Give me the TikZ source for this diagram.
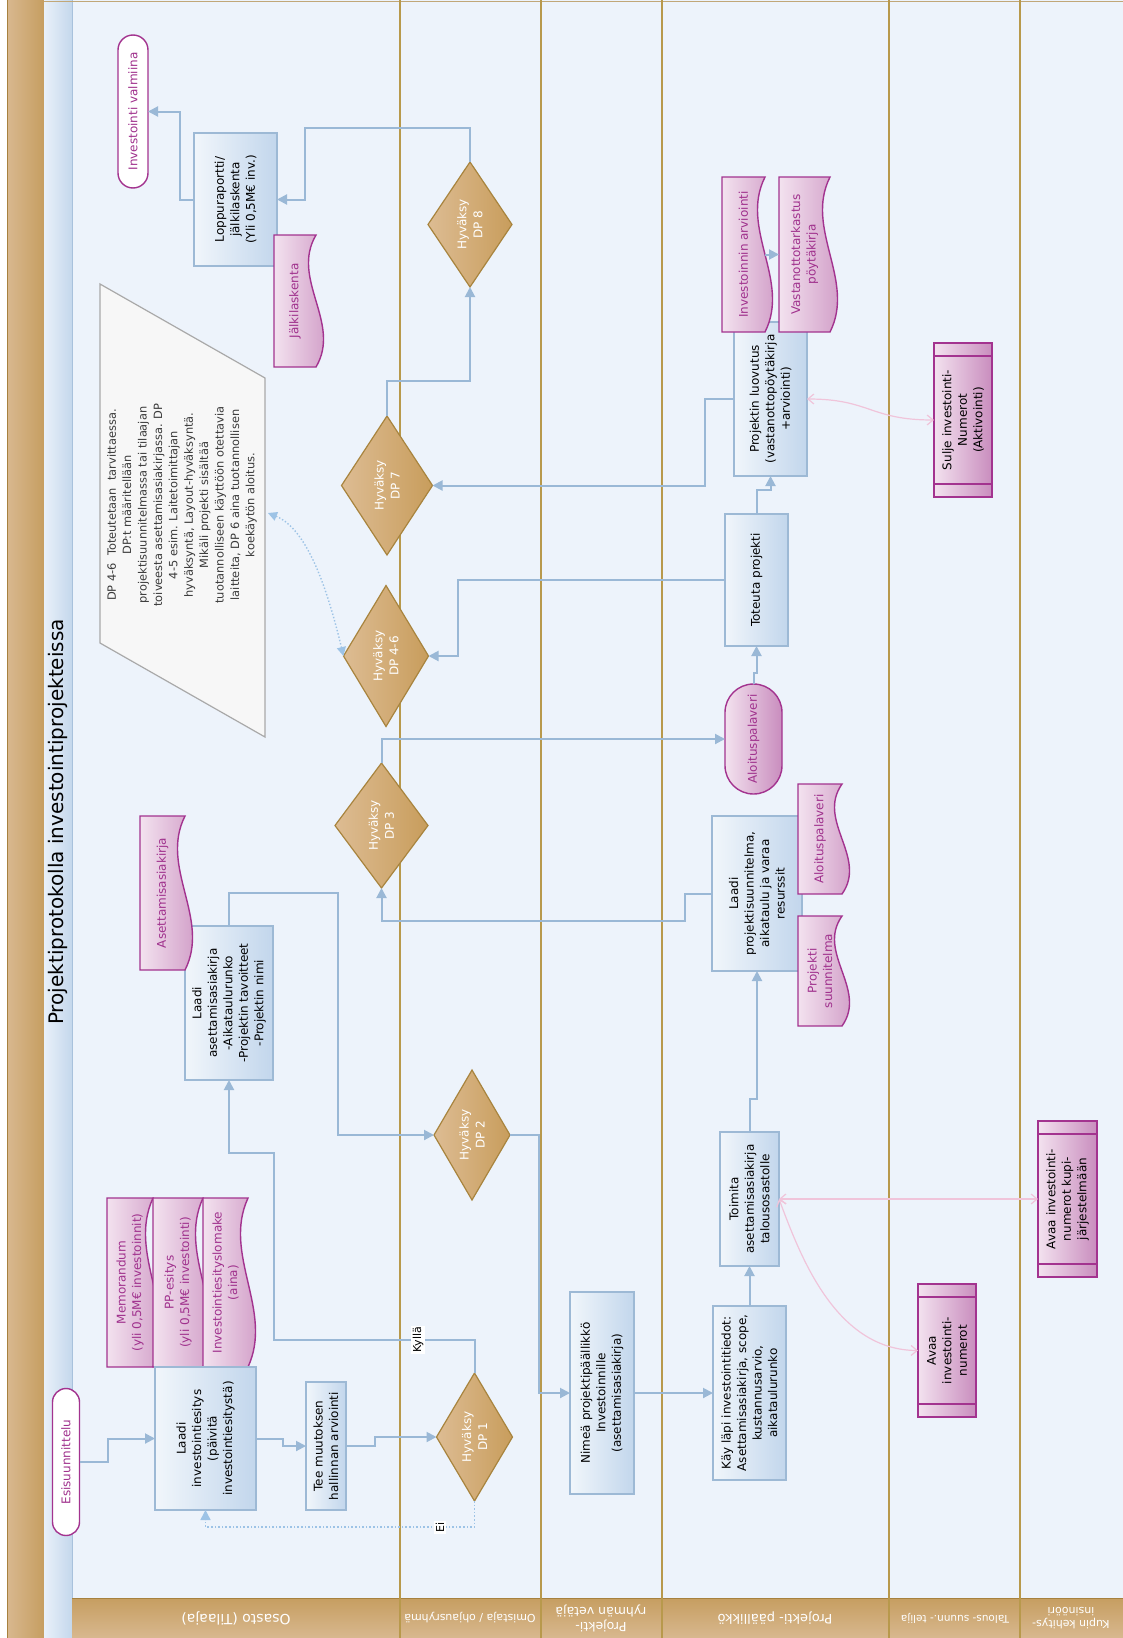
\documentclass[tikz,border=0pt]{standalone}
\usepackage{fontspec}
\setmainfont{DejaVu Sans}
\usetikzlibrary{arrows.meta,shapes.geometric,shapes.misc,calc}

\definecolor{canvas}{HTML}{EDF3FB}
\definecolor{procB}{HTML}{9DB9D5}
\definecolor{procL}{HTML}{F1F6FB}
\definecolor{procR}{HTML}{C2D6EC}
\definecolor{magB}{HTML}{A3338F}
\definecolor{magT}{HTML}{A0318D}
\definecolor{pinkL}{HTML}{F3E2EF}
\definecolor{pinkR}{HTML}{C98DBE}
\definecolor{decB}{HTML}{A8843E}
\definecolor{decL}{HTML}{DDBC93}
\definecolor{decR}{HTML}{C89D5C}
\definecolor{flowC}{HTML}{9AB8D6}
\definecolor{dotC}{HTML}{9DC3E6}
\definecolor{linkC}{HTML}{F0C4DA}
\definecolor{laneC}{HTML}{B8994C}
\definecolor{brL}{HTML}{D8B88F}
\definecolor{brR}{HTML}{C69E61}
\definecolor{brD}{HTML}{A7813E}
\definecolor{tiL}{HTML}{E9F1FA}
\definecolor{tiR}{HTML}{C4D7EC}
\definecolor{tiB}{HTML}{A8C1DC}
\definecolor{noteF}{HTML}{F7F7F7}
\definecolor{noteB}{HTML}{A9A9A9}
\definecolor{noteT}{HTML}{3A3A3A}

% document symbol: rectangle whose bottom edge is a wave
\makeatletter
\pgfdeclareshape{docwave}{%
  \inheritsavedanchors[from=rectangle]%
  \inheritanchorborder[from=rectangle]%
  \inheritanchor[from=rectangle]{center}%
  \inheritanchor[from=rectangle]{north}%
  \inheritanchor[from=rectangle]{south}%
  \inheritanchor[from=rectangle]{east}%
  \inheritanchor[from=rectangle]{west}%
  \inheritanchor[from=rectangle]{north east}%
  \inheritanchor[from=rectangle]{north west}%
  \inheritanchor[from=rectangle]{south east}%
  \inheritanchor[from=rectangle]{south west}%
  \backgroundpath{%
    \southwest\edef\dw@xa{\the\pgf@x}\edef\dw@ya{\the\pgf@y}%
    \northeast\edef\dw@xb{\the\pgf@x}\edef\dw@yb{\the\pgf@y}%
    \pgfmathsetlengthmacro\dw@ca{\dw@xb-(\dw@xb-\dw@xa)/3}%
    \pgfmathsetlengthmacro\dw@cb{\dw@xa+(\dw@xb-\dw@xa)/3}%
    \pgfmathsetlengthmacro\dw@yu{\dw@ya+26pt}%
    \pgfmathsetlengthmacro\dw@yd{\dw@ya-26pt}%
    \pgfpathmoveto{\pgfqpoint{\dw@xa}{\dw@yb}}%
    \pgfpathlineto{\pgfqpoint{\dw@xb}{\dw@yb}}%
    \pgfpathlineto{\pgfqpoint{\dw@xb}{\dw@ya}}%
    \pgfpathcurveto{\pgfqpoint{\dw@ca}{\dw@yu}}{\pgfqpoint{\dw@cb}{\dw@yd}}{\pgfqpoint{\dw@xa}{\dw@ya}}%
    \pgfpathclose
  }%
}
\makeatother

\newcommand\boxfnt{\fontsize{12}{15.5}\selectfont}
\newcommand\decfnt{\fontsize{12}{16}\selectfont}
% vertical bars of a predefined-process symbol
\newcommand\sidebars[1]{%
  \draw[magB, line width=1.2pt] ($(#1.north west)!13pt!(#1.north east)$) -- ($(#1.south west)!13pt!(#1.south east)$);
  \draw[magB, line width=1.2pt] ($(#1.north east)!13pt!(#1.north west)$) -- ($(#1.south east)!13pt!(#1.south west)$);}

\tikzset{
  sz/.style 2 args={minimum height=#1pt, minimum width=#2pt},
  shapebase/.style={rotate=90, align=center, inner sep=0pt, outer sep=0pt, font=\boxfnt},
  proc/.style={shapebase, rectangle, draw=procB, line width=1.4pt, left color=procL, right color=procR, text=black},
  docu/.style={shapebase, docwave, draw=magB, line width=1.4pt, left color=pinkL, right color=pinkR, text=magT},
  term/.style={shapebase, rounded rectangle, draw=magB, line width=1.4pt, fill=white, text=magT},
  pproc/.style={shapebase, rectangle, draw=magB, line width=1.4pt, left color=pinkL, right color=pinkR, text=black},
  decis/.style={shapebase, diamond, draw=decB, line width=1.2pt, left color=decL, right color=decR, text=white, font=\decfnt},
  flow/.style={draw=flowC, line width=2pt, -{Triangle[length=10pt,width=10pt]}},
  dotflow/.style={draw=dotC, line width=1.6pt, dotted, -{Triangle[length=10pt,width=10pt]}},
  link/.style={draw=linkC, line width=1.2pt, {Straight Barb[length=6pt,width=10pt]}-{Straight Barb[length=6pt,width=10pt]}},
  lanesep/.style={draw=laneC, line width=2pt},
  lanelbl/.style={rotate=180, text=white, align=center, inner sep=0pt},
  tag/.style={rotate=90, fill=white, inner sep=1.5pt, font=\fontsize{11}{13}\selectfont},
}

\begin{document}
\begin{tikzpicture}[x=1pt,y=-1pt]
\useasboundingbox (0,0) rectangle (1123,1638);

% ---------- frame, title strip, lanes ----------
\fill[white] (0,0) rectangle (1123,1638);
\fill[canvas] (72,0) rectangle (1123,1598);
\shade[left color=brL, right color=brR] (7,0) rectangle (44,1638);
\draw[brD, line width=1pt] (7,0) -- (7,1638) (44,0) -- (44,1638);
\shade[left color=tiL, right color=tiR] (44,0) rectangle (72,1638);
\draw[tiB, line width=1pt] (72,0) -- (72,1598);
\shade[top color=brR, bottom color=brL] (72,1598) rectangle (1123,1638);
\draw[brD, line width=1pt] (72,1598) -- (1123,1598);
\draw[brD!70, line width=1pt] (44,1) -- (1123,1);
\foreach \x in {400,541,662,889,1020} \draw[lanesep] (\x,0) -- (\x,1638);

\node[rotate=90, font=\fontsize{20}{24}\selectfont] (title) at (58,822) {Projektiprotokolla investointiprojekteissa};

\node[lanelbl, font=\fontsize{14}{16}\selectfont] (lane1) at (236,1618) {Osasto (Tilaaja)};
\node[lanelbl, font=\fontsize{11}{13}\selectfont] (lane2) at (470,1618) {Omistaja / ohjausryhmä};
\node[lanelbl, font=\fontsize{12.5}{15}\selectfont] (lane3) at (601,1618) {Projekti-\\ryhmän vetäjä};
\node[lanelbl, font=\fontsize{13}{15}\selectfont] (lane4) at (775,1618) {Projekti- päällikkö};
\node[lanelbl, font=\fontsize{10.5}{12}\selectfont] (lane5) at (955,1618) {Talous- suunn.- telija};
\node[lanelbl, font=\fontsize{11}{13}\selectfont] (lane6) at (1071,1618) {Kupin kehitys-\\insinööri};

% ---------- annotation ----------
\path[fill=noteF, draw=noteB, line width=1.2pt] (100,284) -- (265,378) -- (265,737) -- (100,643) -- cycle;
\node[rotate=90, align=center, text=noteT, font=\fontsize{11.4}{15.4}\selectfont] (note) at (182,505)
  {DP 4-6\ \ Toteutetaan\ \ tarvittaessa.\\DP:t määritellään\\projektisuunnitelmassa tai tilaajan\\toiveesta asettamisasiakirjassa. DP\\4-5 esim. Laitetoimittajan\\hyväksyntä, Layout-hyväksyntä.\\Mikäli projekti sisältää\\tuotannolliseen käyttöön otettavia\\laitteita, DP 6 aina tuotannollisen\\koekäytön aloitus.};
\coordinate (noteR) at (268,513);

% ---------- lane 1: Osasto ----------
\node[term, sz={27}{147}] (esis) at (66,1462) {Esisuunnittelu};
\node[term, sz={30}{153}] (valmis) at (133,111.5) {Investointi valmiina};

\node[docu, sz={46}{169}] (memo) at (130,1282.5) {Memorandum\\(yli 0,5M€ investoinnit)};
\node[docu, sz={50}{169}] (ppes) at (178,1282.5) {PP-esitys\\(yli 0,5M€ investointi)};
\node[docu, sz={45}{169}] (lomake) at (225.5,1282.5) {Investointiesityslomake\\(aina)};
\node[proc, sz={101}{143}] (laadi1) at (205.5,1438.5) {Laadi\\investointiesitys\\(päivitä\\investointiesitystä)};
\node[proc, sz={40}{128}] (tee) at (326,1446) {Tee muutoksen\\hallinnan arviointi};

\node[proc, sz={88}{154}] (laadi2) at (229,1003) {Laadi\\asettamisasiakirja\\-Aikataulurunko\\-Projektin tavoitteet\\-Projektin nimi};
\node[docu, sz={45}{154}] (asett) at (162.5,893) {Asettamisasiakirja};

\node[proc, sz={83}{133}] (loppu) at (235.5,199.5) {Loppuraportti/\\jälkilaskenta\\(Yli 0,5M€ inv.)};
\node[docu, sz={42}{132}] (jalki) at (295,301) {Jälkilaskenta};

% ---------- lane 2: decisions ----------
\node[decis, sz={75}{128}] (dp1) at (474.5,1437) {Hyväksy\\DP 1};
\node[decis, sz={68}{130}] (dp2) at (472,1135) {Hyväksy\\DP 2};
\node[decis, sz={93}{125}] (dp3) at (381.5,825.5) {Hyväksy\\DP 3};
\node[decis, sz={85}{141}] (dp46) at (386,656) {Hyväksy\\DP 4-6};
\node[decis, sz={91}{139}] (dp7) at (387,485.5) {Hyväksy\\DP 7};
\node[decis, sz={84}{125}] (dp8) at (470,224.5) {Hyväksy\\DP 8};

% ---------- lane 3 ----------
\node[proc, sz={64}{202}] (nimea) at (602,1393) {Nimeä projektipäällikkö\\Investoinnille\\(asettamisasiakirja)};

% ---------- lane 4: Projektipäällikkö ----------
\node[proc, sz={73}{174}] (kay) at (749.5,1393) {Käy läpi investointitiedot:\\Asettamisasiakirja, scope,\\kustannusarvio,\\aikataulurunko};
\node[proc, sz={59}{134}] (toimita) at (749.5,1199) {Toimita\\asettamisasiakirja\\talousosastolle};
\node[proc, sz={90}{155}] (laadi3) at (757,893.5) {Laadi\\projektisuunnitelma,\\aikataulu ja varaa\\resurssit};
\node[docu, sz={44}{110}] (projsuun) at (820,971) {Projekti\\suunnitelma};
\node[docu, sz={44}{110}] (aloitdoc) at (820,839) {Aloituspalaveri};
\node[term, sz={57}{110}, draw=magB, left color=pinkL, right color=pinkR] (aloitus) at (753.5,739) {Aloituspalaveri};
\node[proc, sz={63}{132}] (toteuta) at (756.5,580) {Toteuta projekti};
\node[proc, sz={73}{154}] (luovutus) at (770.5,399) {Projektin luovutus\\(vastanottopöytäkirja\\+arviointi)};
\node[docu, sz={43}{155}] (invarv) at (743.5,254.5) {Investoinnin arviointi};
\node[docu, sz={51}{155}] (vastaan) at (804.5,254.5) {Vastanottotarkastus\\pöytäkirja};

% ---------- lanes 5 and 6 ----------
\node[pproc, sz={58}{133}] (avaa) at (947,1350.5) {Avaa\\investointi-\\numerot};
\sidebars{avaa}
\node[pproc, sz={58}{154}] (sulje) at (963,420) {Sulje investointi-\\Numerot\\(Aktivointi)};
\sidebars{sulje}
\node[pproc, sz={59}{156}] (kupi) at (1067.5,1199) {Avaa investointi-\\numerot kupi-\\järjestelmään};
\sidebars{kupi}

% ---------- connectors ----------
\draw[flow] (esis.south) -- ++(28,0) |- (laadi1.north);
\draw[flow] (laadi1.south) -- ++(27,0) |- (tee.north);
\draw[flow] (tee.south) -- ++(29,0) |- (dp1.north);
\draw[flow] (dp1.east) |- (274,1340) -- (274,1153) -| (laadi2.west);
\node[tag] (kylla) at (418,1340) {Kyllä};
\draw[dotflow] (dp1.west) -- ++(0,26) -| (laadi1.west);
\node[tag] (ei) at (440,1527) {Ei};
\draw[flow] (laadi2.east) |- (338,893) |- (dp2.north);
\draw[flow] (dp2.south) -- ++(29,0) |- (nimea.north);
\draw[flow] (nimea.south) -- (kay.north);
\draw[flow] (kay.east) -- (toimita.west);
\draw[flow] (toimita.east) -- ++(0,-33) -| (laadi3.west);
\draw[flow] (laadi3.north) -- ++(-27,0) -- ++(0,27) -| (dp3.west);
\draw[flow] (dp3.east) |- (aloitus.north);
\draw[flow] (aloitus.east) -- ++(0,-11) -| (toteuta.west);
\draw[flow] (toteuta.north) -| ($(dp46.south)+(29,0)$) -- (dp46.south);
\draw[flow] (toteuta.east) -- ++(0,-24) -| (luovutus.west);
\draw[flow] (luovutus.north) -- ++(-29,0) |- (dp7.south);
\draw[flow] (dp7.east) -- ++(0,-35) -| (dp8.west);
\draw[flow] (dp8.east) -- ++(0,-34) -| ($(loppu.south)+(28,0)$) -- (loppu.south);
\draw[flow] (loppu.north) -- ++(-14,0) |- (valmis.south);
\draw[flow] (invarv.south) -- (vastaan.north);

\draw[link] (toimita.south) -- (kupi.north);
\draw[link] (toimita.south) .. controls (800,1255) and (835,1350) .. (avaa.north);
\draw[link] (luovutus.south) .. controls (870,399) and (870,420) .. (sulje.north);
\draw[draw=dotC, line width=1.4pt, dotted, {Triangle[length=9pt,width=9pt]}-{Triangle[length=9pt,width=9pt]}]
  (noteR) .. controls (310,530) and (330,600) .. (dp46.north);
\end{tikzpicture}
\end{document}
